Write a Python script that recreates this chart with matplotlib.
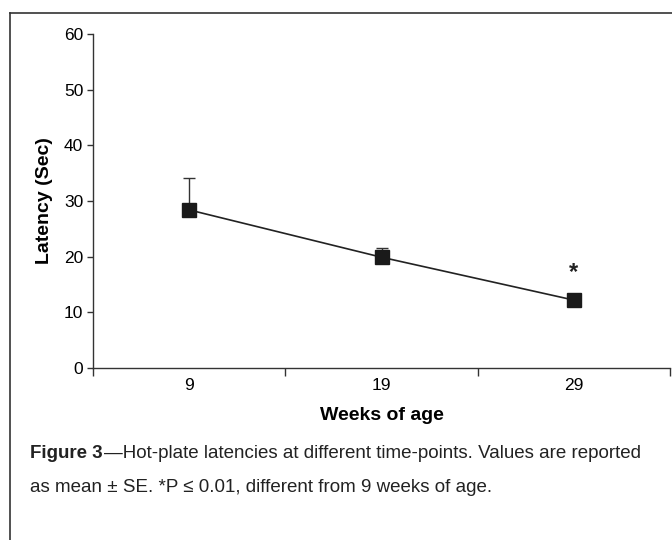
import matplotlib
matplotlib.use("Agg")
import matplotlib.pyplot as plt
from matplotlib.lines import Line2D
from matplotlib import font_manager

# Data
weeks = ["9", "19", "29"]
latency = [28.4, 19.9, 12.2]
se_upper = [5.7, 1.7, 0.0]
significant = [False, False, True]

names = {f.name for f in font_manager.fontManager.ttflist}
narrow = "Liberation Sans Narrow" if "Liberation Sans Narrow" in names else "Liberation Sans"
plt.rcParams["font.family"] = [narrow, "DejaVu Sans"]

fig = plt.figure(figsize=(6.72, 5.4), dpi=100)
ax = fig.add_axes([93 / 672, 172 / 540, 577 / 672, 334 / 540])

pos = list(range(1, len(weeks) + 1))
ax.errorbar(pos, latency, yerr=[[0] * len(pos), se_upper], fmt="none",
            ecolor="#333333", elinewidth=1.0, capsize=4.5, capthick=1.0, zorder=2)
ax.plot(pos, latency, color="#222222", linewidth=1.2, marker="s",
        markersize=10, markerfacecolor="#1a1a1a", markeredgecolor="#1a1a1a", zorder=3)
for p, v, s in zip(pos, latency, significant):
    if s:
        ax.text(p, v + 2.8, "*", ha="center", va="bottom", fontsize=17,
                fontweight="bold", color="#222222")

ax.set_xlim(0.5, len(weeks) + 0.5)
ax.set_ylim(0, 60)
ax.set_yticks(range(0, 61, 10))
ax.set_xticks(pos)
ax.set_xticklabels(weeks)
ax.set_xticks([p + 0.5 for p in [0] + pos], minor=True)
ax.tick_params(axis="x", which="major", length=0, pad=7, labelsize=12.5)
ax.tick_params(axis="x", which="minor", length=6, width=1, color="#333333")
ax.tick_params(axis="y", length=4, width=1, color="#333333", pad=3, labelsize=12.5)
for side in ["top", "right"]:
    ax.spines[side].set_visible(False)
for side in ["left", "bottom"]:
    ax.spines[side].set_color("#333333")
    ax.spines[side].set_linewidth(1.0)

ax.set_ylabel("Latency (Sec)", fontsize=14, fontweight="bold", labelpad=8)
ax.set_xlabel("Weeks of age", fontsize=14, fontweight="bold", labelpad=10)

# Caption
cap1 = fig.text(30 / 672, 1 - 453 / 540, "Figure 3", fontsize=13.5, fontweight="bold",
                va="center", color="#222222")
fig.canvas.draw()
bb = cap1.get_window_extent()
fig.text(bb.x1 / 672 + 0.002, 1 - 453 / 540,
         "\u2014Hot-plate latencies at different time-points. Values are reported",
         fontsize=13.5, va="center", color="#222222")
fig.text(30 / 672, 1 - 487 / 540,
         "as mean \u00b1 SE. *P \u2264 0.01, different from 9 weeks of age.",
         fontsize=13.5, va="center", color="#222222")

# Frame
fig.add_artist(Line2D([10 / 672, 10 / 672], [0, 1 - 13 / 540], transform=fig.transFigure,
                      color="#333333", linewidth=1.2))
fig.add_artist(Line2D([10 / 672, 1], [1 - 13 / 540, 1 - 13 / 540], transform=fig.transFigure,
                      color="#333333", linewidth=1.2))

fig.savefig("out.png", dpi=100)
